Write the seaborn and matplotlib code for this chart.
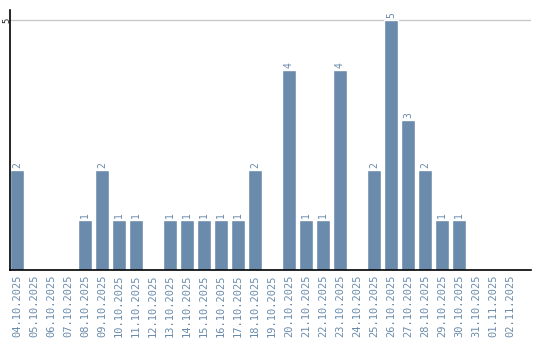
import matplotlib
matplotlib.use("Agg")
import matplotlib.pyplot as plt
import seaborn as sns
import pandas as pd

dates = ["04.10.2025", "05.10.2025", "06.10.2025", "07.10.2025", "08.10.2025",
         "09.10.2025", "10.10.2025", "11.10.2025", "12.10.2025", "13.10.2025",
         "14.10.2025", "15.10.2025", "16.10.2025", "17.10.2025", "18.10.2025",
         "19.10.2025", "20.10.2025", "21.10.2025", "22.10.2025", "23.10.2025",
         "24.10.2025", "25.10.2025", "26.10.2025", "27.10.2025", "28.10.2025",
         "29.10.2025", "30.10.2025", "31.10.2025", "01.11.2025", "02.11.2025"]
counts = [2, 0, 0, 0, 1, 2, 1, 1, 0, 1, 1, 1, 1, 1, 2, 0, 4, 1, 1, 4, 0, 2, 5, 3, 2, 1, 1, 0, 0, 0]
yticks = [5]

df = pd.DataFrame({"date": dates, "count": counts})
color = "#6a8bab"

sns.set_style("white")
fig = plt.figure(figsize=(5.4, 3.4), dpi=100)
ax = fig.add_axes([10 / 540, 70 / 340, 521 / 540, 260 / 340])
sns.barplot(data=df, x="date", y="count", color=color, saturation=1, width=0.82, ax=ax)

ax.set_ylim(0, 5.2)
ax.set_xlim(-0.41, len(dates) + 0.24)
ax.set_yticks(yticks)
ax.set_yticklabels([str(t) for t in yticks], rotation=90, va="center",
                   fontsize=6.5, family="DejaVu Sans Mono")
ax.axhline(5, color="#c8c8c8", lw=1, zorder=0)
ax.set_xlabel("")
ax.set_ylabel("")
ax.tick_params(axis="x", length=0, pad=3, labelsize=7.5, labelcolor=color)
ax.tick_params(axis="y", length=0, pad=-1)
for lab in ax.get_xticklabels():
    lab.set_rotation(90)
    lab.set_family("DejaVu Sans Mono")
for s in ["top", "right"]:
    ax.spines[s].set_visible(False)
for s in ["left", "bottom"]:
    ax.spines[s].set_color("black")
    ax.spines[s].set_linewidth(1.2)

for i, v in enumerate(counts):
    if v > 0:
        ax.text(i, v + 0.04, str(v), rotation=90, ha="center", va="bottom",
                fontsize=7, color=color, family="DejaVu Sans Mono")

fig.savefig("out.png", dpi=100)
